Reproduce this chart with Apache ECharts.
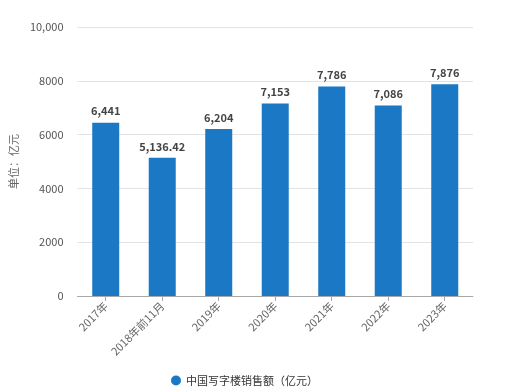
<!DOCTYPE html>
<html><head><meta charset="utf-8">
<script src="https://cdn.jsdelivr.net/npm/echarts@6/dist/echarts.min.js"></script>
<style>html,body{margin:0;padding:0;background:#fff}#c{width:507px;height:392px}</style>
</head><body><div id="c"></div>
<script>
var categories = ['2017年','2018年前11月','2019年','2020年','2021年','2022年','2023年'];
var values = [6441, 5136.42, 6204, 7153, 7786, 7086, 7876];
var seriesName = '中国写字楼销售额（亿元）';
var yTicks = [0, 2000, 4000, 6000, 8000, 10000];

var chart = echarts.init(document.getElementById('c'));
var font = '"Microsoft YaHei","Noto Sans CJK SC","Noto Sans",sans-serif';
chart.setOption({
  animation: false,
  textStyle: {fontFamily: font},
  grid: {left: 70, right: 34, top: 27, bottom: 96},
  legend: {
    bottom: 1, left: 166, icon: 'circle', itemWidth: 10, itemHeight: 10, itemGap: 8,
    textStyle: {color: '#333', fontSize: 11, fontFamily: font}
  },
  xAxis: {
    type: 'category', data: categories,
    axisLine: {lineStyle: {color: '#aaa'}},
    axisTick: {show: true, alignWithLabel: true, lineStyle: {color: '#aaa'}},
    axisLabel: {rotate: 45, color: '#666', fontSize: 11, interval: 0, margin: 8}
  },
  yAxis: {
    type: 'value', min: yTicks[0], max: yTicks[yTicks.length-1], interval: 2000,
    name: '单位：亿元', nameLocation: 'middle', nameGap: 57, nameRotate: 90,
    nameTextStyle: {color: '#666', fontSize: 11},
    axisLine: {show: false}, axisTick: {show: false},
    axisLabel: {color: '#555', fontSize: 11, margin: 14,
      formatter: function(v){ return v >= 10000 ? v.toLocaleString('en-US') : String(v); }},
    splitLine: {lineStyle: {color: '#e3e3e3'}}
  },
  series: [{
    name: seriesName, type: 'bar', data: values, barWidth: 27,
    itemStyle: {color: '#1a78c4'},
    label: {show: true, position: 'top', color: '#444', fontWeight: 'bold', fontSize: 11, distance: 6,
      formatter: function(p){ return p.value.toLocaleString('en-US', {maximumFractionDigits: 2}); }}
  }]
});
</script></body></html>
